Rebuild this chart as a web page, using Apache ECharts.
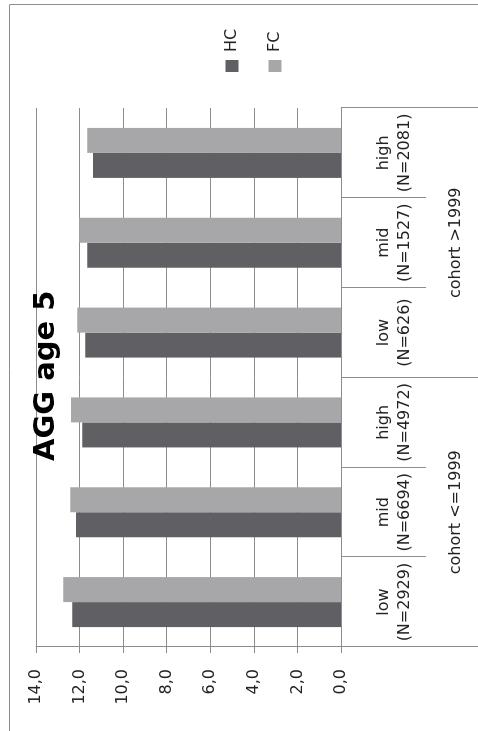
<!DOCTYPE html>
<html>
<head>
<meta charset="utf-8">
<script src="https://cdn.jsdelivr.net/npm/echarts@6/dist/echarts.min.js"></script>
<style>
  html, body { margin: 0; padding: 0; background: #fff; overflow: hidden; }
  #chart {
    position: absolute; left: 0; top: 0;
    width: 731px; height: 478px;
    transform-origin: 0 0;
    transform: translate(0, 731px) rotate(-90deg);
  }
</style>
</head>
<body>
<div id="chart"></div>
<script>
// groups along the category axis, left to right (before rotation)
const levels = ['low', 'mid', 'high', 'low', 'mid', 'high'];
const sizes = ['N=2929', 'N=6694', 'N=4972', 'N=626', 'N=1527', 'N=2081'];
const cohorts = ['cohort <=1999', 'cohort >1999'];

const hcValues = [12.34, 12.16, 11.88, 11.74, 11.65, 11.38];
const fcValues = [12.75, 12.43, 12.39, 12.11, 12.02, 11.65];

const valueTicks = ['0,0', '2,0', '4,0', '6,0', '8,0', '10,0', '12,0', '14,0'];

const categories = levels.map((l, i) => l + '\n(' + sizes[i] + ')');

const lineGray = '#8c8c8c';
const font = 'DejaVu Sans';

const myChart = echarts.init(document.getElementById('chart'));

myChart.setOption({
    animation: false,
    textStyle: { fontFamily: font },
    title: {
        text: 'AGG age 5',
        left: 270,
        top: 32,
        padding: 0,
        textStyle: { fontFamily: font, fontSize: 29, fontWeight: 'bold', color: '#000' }
    },
    legend: {
        data: ['HC', 'FC'],
        orient: 'vertical',
        left: 659,
        top: 224,
        padding: 0,
        itemWidth: 12,
        itemHeight: 13,
        itemGap: 27,
        icon: 'rect',
        textStyle: { fontFamily: font, fontSize: 16, color: '#222', padding: [0, 0, 0, 3] }
    },
    graphic: [
        { type: 'line', shape: { x1: -5, y1: 9.5, x2: 726.5, y2: 9.5 }, style: { stroke: lineGray, lineWidth: 1 } },
        { type: 'line', shape: { x1: 726.5, y1: 9.5, x2: 726.5, y2: 490 }, style: { stroke: lineGray, lineWidth: 1 } }
    ],
    grid: { left: 84, right: 108, top: 36, bottom: 137 },
    xAxis: [
        {
            type: 'category',
            position: 'bottom',
            data: categories,
            axisLine: { show: true, lineStyle: { color: lineGray } },
            axisTick: { show: true, length: 85, lineStyle: { color: lineGray } },
            axisLabel: {
                interval: 0, margin: 32, fontSize: 16, lineHeight: 21,
                color: '#222', fontFamily: font, align: 'center'
            }
        },
        {
            type: 'category',
            position: 'bottom',
            offset: 0,
            data: cohorts,
            axisLine: { show: false },
            axisTick: { show: true, length: 150, lineStyle: { color: lineGray } },
            axisLabel: { interval: 0, margin: 107, fontSize: 16, color: '#222', fontFamily: font }
        }
    ],
    yAxis: {
        type: 'value',
        min: 0,
        max: 14,
        interval: 2,
        axisLine: { show: true, lineStyle: { color: lineGray } },
        axisTick: { show: true, length: 6, lineStyle: { color: lineGray } },
        splitLine: { show: true, lineStyle: { color: lineGray } },
        axisLabel: {
            margin: 22, fontSize: 16, color: '#222', fontFamily: font,
            formatter: v => valueTicks[Math.round(v / 2)]
        }
    },
    series: [
        {
            name: 'HC',
            type: 'bar',
            data: hcValues,
            barWidth: 25,
            barGap: 0,
            itemStyle: { color: '#606064' }
        },
        {
            name: 'FC',
            type: 'bar',
            data: fcValues,
            barWidth: 25,
            barGap: 0,
            itemStyle: { color: '#a7a7a9' }
        }
    ]
});
</script>
</body>
</html>
